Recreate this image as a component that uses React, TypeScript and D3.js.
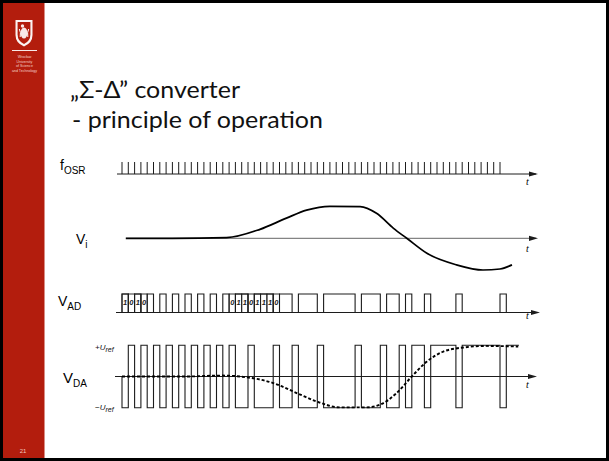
import React from 'react';
import * as d3 from 'd3';

const W = 609;
const H = 461;

// bit stream of the sigma-delta modulator (V_AD), one bit per f_OSR clock
const bits = [
  1, 0, 1, 0, 1, 0, 1, 0, 1, 0, // 0-9
  1, 0, 1, 0, 1, 0, 1, 0, 1, 1, // 10-19
  0, 1, 1, 1, 0, 1, 1, 0, 1, 1, // 20-29
  1, 0, 1, 1, 1, 1, 1, 0, 1, 1, // 30-39
  1, 0, 1, 1, 0, 1, 0, 0, 1, 0, // 40-49
  0, 0, 0, 1, 0, 0, 0, 0, 0, 0, // 50-59
  1, 0, 0,                      // 60-62
];
// bit ranges that carry digit labels [start, end)
const labeledStart = [0, 17];
const labeledEnd = [4, 25];
const clockTicks = d3.range(61);

// input signal V_i (time in clock periods, value relative)
const viT = [0.6, 8, 16.6, 21.9, 26.1, 29.3, 33.0, 37.8, 40.4, 43.1, 45.2, 48.4, 53.1, 57.3, 60.0, 61.9];
const viV = [0, 0, 0.02, 0.28, 0.63, 0.88, 1.0, 0.99, 0.78, 0.31, 0, -0.47, -0.83, -0.99, -0.96, -0.83];

// filtered DAC output (dashed), in units of U_ref
const daT = [0, 10, 16, 18.7, 24.0, 28.3, 30.9, 34.6, 38.8, 41.0, 43.6, 46.0, 48.4, 51.0, 54.2, 57.9, 62.9];
const daV = [0, 0, 0.03, 0, -0.21, -0.58, -0.8, -0.99, -0.99, -0.9, -0.53, 0, 0.48, 0.8, 0.93, 0.98, 0.96];

const RED = '#b31d0d';
const INK = '#1c1c1c';

function Arrow({ x, y }: { x: number; y: number }) {
  return <polygon points={`${x},${y} ${x - 9},${y - 2.6} ${x - 9},${y + 2.6}`} fill={INK} />;
}

export default function App() {
  const x = d3.scaleLinear().domain([0, 63]).range([122, 518.9]);
  const clkTop = 162;
  const clkBase = 174;
  const yVi = d3.scaleLinear().domain([-1, 1]).range([270.3, 206.3]);
  const yAD = d3.scaleLinear().domain([0, 1]).range([312.5, 294]);
  const yDA = d3.scaleLinear().domain([-1, 1]).range([407.7, 345.3]);

  const viPts = viT.map((t, i) => [t, viV[i]] as [number, number]);
  const viPath = d3.line<[number, number]>()
    .x(d => x(d[0])).y(d => yVi(d[1]))
    .curve(d3.curveMonotoneX)(viPts) || '';

  const daPts = daT.map((t, i) => [t, daV[i]] as [number, number]);
  const daPath = d3.line<[number, number]>()
    .x(d => x(d[0])).y(d => yDA(d[1]))
    .curve(d3.curveMonotoneX)(daPts) || '';

  const adPts: [number, number][] = [[0, 0], ...bits.map((b, i) => [i, b] as [number, number]), [bits.length, bits[bits.length - 1]]];
  const adPath = d3.line<[number, number]>()
    .x(d => x(d[0])).y(d => yAD(d[1]))
    .curve(d3.curveStepAfter)(adPts) || '';

  const dav = (b: number) => (b ? -1 : 1);
  const daStepPts: [number, number][] = [[0, 0], ...bits.map((b, i) => [i, dav(b)] as [number, number]), [bits.length, dav(bits[bits.length - 1])]];
  const daStepPath = d3.line<[number, number]>()
    .x(d => x(d[0]))
    .y(d => yDA(d[1]))
    .curve(d3.curveStepAfter)(daStepPts) || '';

  const labelFont = "'Liberation Sans', Arial, sans-serif";
  const titleFont = "Lato, 'Open Sans', sans-serif";

  const labeledBits: number[] = [];
  labeledStart.forEach((s, k) => {
    for (let i = s; i < labeledEnd[k]; i++) labeledBits.push(i);
  });

  return (
    <svg width={W} height={H} style={{ position: 'fixed', left: 0, top: 0, background: '#fff' }}>
      <rect x={0} y={0} width={W} height={H} fill="#fff" />
      {/* sidebar */}
      <rect x={3} y={3} width={41.5} height={H - 6} fill={RED} />
      {/* logo */}
      <g>
        <path d="M15.5,20 L32.5,20 L32.5,35 Q32.5,43 24,46.5 Q15.5,43 15.5,35 Z" fill="#fff" opacity={0.95} />
        <path d="M17.6,22 L30.4,22 L30.4,34.5 Q30.4,41 24,44 Q17.6,41 17.6,34.5 Z" fill={RED} />
        <ellipse cx={24} cy={33} rx={3.4} ry={5.6} fill="#fff" opacity={0.9} />
        <circle cx={22.5} cy={26} r={1.7} fill="#fff" opacity={0.9} />
        <path d="M19.3,29 Q21,32 20.2,37" stroke="#fff" strokeWidth={1} fill="none" />
        <path d="M28.7,29 Q27,32 27.8,37" stroke="#fff" strokeWidth={1} fill="none" />
        <line x1={12} x2={37} y1={50.5} y2={50.5} stroke="#fff" strokeWidth={1} opacity={0.9} />
        {['Wrocław', 'University', 'of Science', 'and Technology'].map((s, i) => (
          <text key={s} x={24.5} y={58 + i * 4.6} fontSize={3.6} fill="#f3d2cc" textAnchor="middle" fontFamily={labelFont}>{s}</text>
        ))}
      </g>
      <text x={23} y={453} fontSize={6} fill="#f0c6bd" textAnchor="middle" fontFamily={labelFont}>21</text>
      {/* frame */}
      <rect x={1.5} y={1.5} width={W - 3} height={H - 3} fill="none" stroke="#000" strokeWidth={3} />

      {/* title */}
      <text x={70} y={97.7} fontSize={24} fill="#111" fontFamily={titleFont} textLength={170} lengthAdjust="spacingAndGlyphs">„Σ-Δ” converter</text>
      <text x={72} y={128.3} fontSize={24} fill="#111" fontFamily={titleFont} textLength={251} lengthAdjust="spacingAndGlyphs">- principle of operation</text>

      {/* f_OSR row */}
      <text x={60} y={170} fontSize={14} fill="#000" fontFamily={labelFont}>
        f<tspan fontSize={10} dy={3.5}>OSR</tspan>
      </text>
      <line x1={117} x2={536} y1={clkBase} y2={clkBase} stroke={INK} strokeWidth={1} />
      <Arrow x={538} y={clkBase} />
      {clockTicks.map(i => (
        <line key={i} x1={x(i)} x2={x(i)} y1={clkTop} y2={clkBase} stroke={INK} strokeWidth={1} />
      ))}
      <text x={526} y={185} fontSize={10} fontStyle="italic" fontFamily="'Liberation Serif', serif" fill="#000">t</text>

      {/* V_i row */}
      <text x={76} y={244} fontSize={14} fill="#000" fontFamily={labelFont}>
        V<tspan fontSize={10} dy={3.5}>i</tspan>
      </text>
      <line x1={126} x2={536} y1={yVi(0)} y2={yVi(0)} stroke="#666" strokeWidth={1} />
      <Arrow x={538} y={yVi(0)} />
      <path d={viPath} fill="none" stroke="#000" strokeWidth={1.7} />
      <text x={526} y={252} fontSize={10} fontStyle="italic" fontFamily="'Liberation Serif', serif" fill="#000">t</text>

      {/* V_AD row */}
      <text x={58} y={306} fontSize={14} fill="#000" fontFamily={labelFont}>
        V<tspan fontSize={10} dy={3.5}>AD</tspan>
      </text>
      <line x1={116} x2={538} y1={yAD(0)} y2={yAD(0)} stroke={INK} strokeWidth={1} />
      <Arrow x={540} y={yAD(0)} />
      <path d={adPath} fill="none" stroke={INK} strokeWidth={1.1} />
      {labeledBits.map(i => (
        <g key={i}>
          <rect x={x(i)} y={yAD(1)} width={x(i + 1) - x(i)} height={yAD(0) - yAD(1)} fill="none" stroke={INK} strokeWidth={0.9} />
          <text x={(x(i) + x(i + 1)) / 2} y={yAD(0.38)} fontSize={7.5} fontStyle="italic" fontWeight="bold" textAnchor="middle" fontFamily={labelFont} fill="#222">{bits[i]}</text>
        </g>
      ))}
      <text x={526} y={319} fontSize={10} fontStyle="italic" fontFamily="'Liberation Serif', serif" fill="#000">t</text>

      {/* V_DA row */}
      <text x={63} y={383} fontSize={15} fill="#000" fontFamily={labelFont}>
        V<tspan fontSize={10} dy={4}>DA</tspan>
      </text>
      <text x={95} y={350} fontSize={8} fontStyle="italic" fill="#111" fontFamily={labelFont}>
        +U<tspan fontSize={7} dy={1.5}>ref</tspan>
      </text>
      <text x={95} y={410} fontSize={8} fontStyle="italic" fill="#111" fontFamily={labelFont}>
        −U<tspan fontSize={7} dy={1.5}>ref</tspan>
      </text>
      <line x1={115} x2={535} y1={yDA(0)} y2={yDA(0)} stroke={INK} strokeWidth={1} />
      <Arrow x={537} y={yDA(0)} />
      <path d={daStepPath} fill="none" stroke={INK} strokeWidth={1.1} />
      <path d={daPath} fill="none" stroke="#000" strokeWidth={1.9} strokeDasharray="3 2" />
      <text x={526} y={388} fontSize={10} fontStyle="italic" fontFamily="'Liberation Serif', serif" fill="#000">t</text>
    </svg>
  );
}
